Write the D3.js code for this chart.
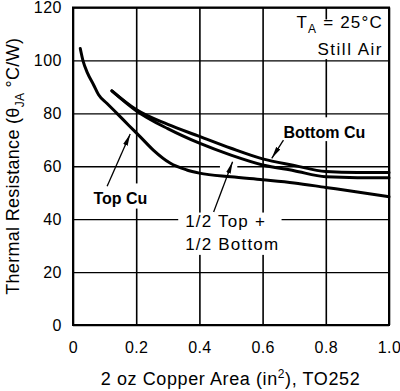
<!DOCTYPE html>
<html>
<head>
<meta charset="utf-8">
<script src="https://cdn.jsdelivr.net/npm/d3@7"></script>
<style>
  html, body { margin: 0; padding: 0; background: #fff; }
  svg { display: block; }
  text { font-family: "Liberation Sans", Arial, Helvetica, sans-serif; fill: #000; }
</style>
</head>
<body>
<svg id="chart" width="400" height="391"></svg>
<script>
// ---- data ----
const xTicks = [0, 0.2, 0.4, 0.6, 0.8, 1.0];
const xTickLabels = ["0", "0.2", "0.4", "0.6", "0.8", "1.0"];
const yTicks = [0, 20, 40, 60, 80, 100, 120];
const yTickLabels = ["0", "20", "40", "60", "80", "100", "120"];

const topCuX = [0.023, 0.032, 0.046, 0.065, 0.081, 0.107, 0.139, 0.176, 0.213, 0.255, 0.307, 0.36, 0.4, 0.5, 0.6, 0.7, 0.8, 0.9, 1.0];
const topCuY = [104.5, 99.7, 95.2, 90.8, 87.0, 83.8, 80.0, 75.5, 71.1, 66.0, 61.2, 58.6, 57.4, 56.0, 54.9, 53.7, 52.0, 50.3, 48.5];

const bottomCuX = [0.123, 0.2, 0.3, 0.4, 0.5, 0.6, 0.7, 0.8, 0.9, 1.0];
const bottomCuY = [88.5, 81.4, 75.8, 71.3, 66.8, 62.8, 60.3, 58.0, 57.6, 57.6];

const halfX = [0.123, 0.2, 0.3, 0.4, 0.5, 0.6, 0.7, 0.8, 0.9, 1.0];
const halfY = [88.5, 81.0, 74.2, 68.7, 64.2, 60.5, 58.3, 56.0, 55.7, 55.7];

// ---- layout ----
const W = 400, H = 391;
const margin = { top: 7.5, right: 11, bottom: 66, left: 73 };
const iw = W - margin.left - margin.right;
const ih = H - margin.top - margin.bottom;

const svg = d3.select("#chart");
const g = svg.append("g").attr("transform", `translate(${margin.left},${margin.top})`);

const x = d3.scaleLinear().domain([0, 1]).range([0, iw]);
const y = d3.scaleLinear().domain([0, 120]).range([ih, 0]);

// grid
g.append("g").attr("class", "gridx")
  .call(d3.axisBottom(x).tickValues(xTicks).tickSize(ih).tickFormat(""))
  .call(s => s.select(".domain").remove())
  .call(s => s.selectAll("line").attr("stroke", "#000").attr("stroke-width", 1.6));
g.append("g").attr("class", "gridy")
  .call(d3.axisLeft(y).tickValues(yTicks).tickSize(-iw).tickFormat(""))
  .call(s => s.select(".domain").remove())
  .call(s => s.selectAll("line").attr("stroke", "#000").attr("stroke-width", 1.4));

// white backgrounds behind labels (gridline gaps)
const bg = g.append("g");
function bgRect(x0, x1, y0, y1) {
  bg.append("rect")
    .attr("x", x(x0)).attr("y", y(y1))
    .attr("width", x(x1) - x(x0)).attr("height", y(y0) - y(y1))
    .attr("fill", "#fff");
}
bgRect(0.055, 0.25, 44, 53.5);       // Top Cu
bgRect(0.66, 0.95, 69.5, 78.5);      // Bottom Cu
bgRect(0.333, 0.66, 26.5, 42.5);     // 1/2 Top + 1/2 Bottom
bgRect(0.71, 0.985, 100.5, 115.5);   // Ta = 25C, Still Air
bgRect(0.465, 0.52, 59, 61.5);       // halo at 1/2 arrow tip

// frame
g.append("rect").attr("x", 0).attr("y", 0).attr("width", iw).attr("height", ih)
  .attr("fill", "none").attr("stroke", "#000").attr("stroke-width", 2);

// curves
const line = d3.line().x(d => x(d[0])).y(d => y(d[1])).curve(d3.curveMonotoneX);
const series = [
  { xs: topCuX, ys: topCuY },
  { xs: bottomCuX, ys: bottomCuY },
  { xs: halfX, ys: halfY }
];
series.forEach(s => {
  g.append("path")
    .datum(s.xs.map((v, i) => [v, s.ys[i]]))
    .attr("d", line)
    .attr("fill", "none")
    .attr("stroke", "#000")
    .attr("stroke-width", 3)
    .attr("stroke-linejoin", "round")
    .attr("stroke-linecap", "round");
});

// arrows
svg.append("defs").append("marker")
  .attr("id", "ah").attr("viewBox", "0 0 12 6").attr("refX", 12).attr("refY", 3)
  .attr("markerWidth", 12).attr("markerHeight", 6).attr("markerUnits", "userSpaceOnUse")
  .attr("orient", "auto")
  .append("path").attr("d", "M0,0.6 L12,3 L0,5.4 Z").attr("fill", "#000");

function arrow(x0, y0, x1, y1) {
  g.append("line")
    .attr("x1", x(x0)).attr("y1", y(y0)).attr("x2", x(x1)).attr("y2", y(y1))
    .attr("stroke", "#000").attr("stroke-width", 1.3)
    .attr("marker-end", "url(#ah)");
}
arrow(0.108, 52.4, 0.181, 72.2);
arrow(0.666, 69.9, 0.629, 63.0);
arrow(0.445, 42.7, 0.505, 61.7);

// labels
g.append("text").attr("x", x(0.0645)).attr("y", y(45.7))
  .attr("font-size", 16).attr("font-weight", "bold").text("Top Cu");
g.append("text").attr("x", x(0.666)).attr("y", y(70.7))
  .attr("font-size", 16).attr("font-weight", "bold").text("Bottom Cu");
g.append("text").attr("x", x(0.355)).attr("y", y(37.2))
  .attr("font-size", 17).attr("letter-spacing", 1.2).text("1/2 Top +");
g.append("text").attr("x", x(0.355)).attr("y", y(28.4))
  .attr("font-size", 17).attr("letter-spacing", 1.2).text("1/2 Bottom");

const ta = g.append("text").attr("x", x(0.981)).attr("y", y(112.3))
  .attr("font-size", 17).attr("letter-spacing", 1.2).attr("text-anchor", "end");
ta.append("tspan").text("T");
ta.append("tspan").attr("dy", 5).attr("font-size", 12).text("A");
ta.append("tspan").attr("dy", -5).text(" = 25°C");
g.append("text").attr("x", x(0.981)).attr("y", y(102.2))
  .attr("font-size", 17).attr("letter-spacing", 1.5).attr("text-anchor", "end").text("Still Air");

// tick labels
g.append("g").attr("transform", `translate(0,${ih})`)
  .call(d3.axisBottom(x).tickValues(xTicks).tickSize(0).tickPadding(0)
    .tickFormat((d, i) => xTickLabels[i]))
  .call(s => s.select(".domain").remove())
  .call(s => s.selectAll("text").attr("font-size", 16).attr("letter-spacing", 0.4)
    .attr("font-family", null).attr("dy", null).attr("y", 28));
g.append("g")
  .call(d3.axisLeft(y).tickValues(yTicks).tickSize(0).tickPadding(11)
    .tickFormat((d, i) => yTickLabels[i]))
  .call(s => s.select(".domain").remove())
  .call(s => s.selectAll("text").attr("font-size", 16).attr("letter-spacing", 0.5)
    .attr("font-family", null));

// axis titles
const xt = svg.append("text").attr("x", margin.left + iw / 2 - 0.5).attr("y", 385)
  .attr("text-anchor", "middle").attr("font-size", 18).attr("letter-spacing", 0.6);
xt.append("tspan").text("2 oz Copper Area (in");
xt.append("tspan").attr("dy", -7).attr("font-size", 12).text("2");
xt.append("tspan").attr("dy", 7).text("), TO252");

const yt = svg.append("text")
  .attr("transform", `translate(19,${margin.top + ih / 2}) rotate(-90)`)
  .attr("text-anchor", "middle").attr("font-size", 18).attr("letter-spacing", 0.3);
yt.append("tspan").text("Thermal Resistance (θ");
yt.append("tspan").attr("dy", 5).attr("font-size", 12).text("JA");
yt.append("tspan").attr("dy", -5).text(" °C/W)");
</script>
</body>
</html>
